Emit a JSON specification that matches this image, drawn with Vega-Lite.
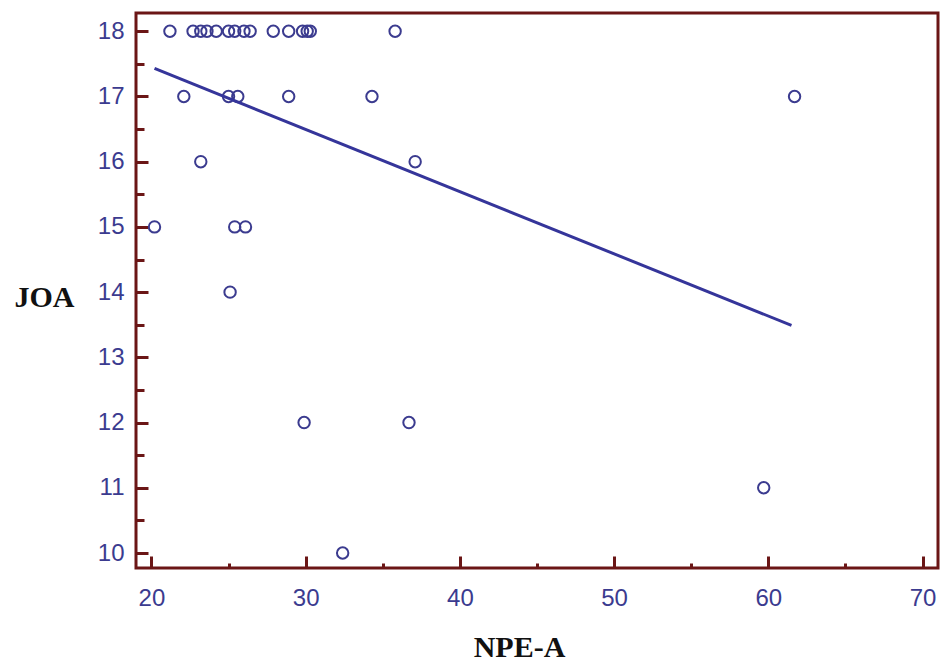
{
  "$schema": "https://vega.github.io/schema/vega-lite/v6.json",
  "width": 802,
  "height": 555,
  "autosize": "none",
  "padding": {"left": 136, "top": 13, "right": 10, "bottom": 96},
  "background": "white",
  "config": {
    "view": {"stroke": "#6b1616", "strokeWidth": 3},
    "axis": {
      "labelFont": "Liberation Sans",
      "labelFontSize": 24,
      "labelColor": "#3b3b8f",
      "tickColor": "#6b1616",
      "tickWidth": 3,
      "domain": false,
      "grid": false,
      "titleFont": "Liberation Serif",
      "titleFontWeight": "bold",
      "titleFontSize": 30,
      "titleColor": "#111111"
    }
  },
  "datasets": {
    "pts": [
      {"npe": 21.2, "joa": 18}, {"npe": 22.7, "joa": 18}, {"npe": 23.2, "joa": 18},
      {"npe": 23.6, "joa": 18}, {"npe": 24.2, "joa": 18}, {"npe": 25.0, "joa": 18},
      {"npe": 25.4, "joa": 18}, {"npe": 26.0, "joa": 18}, {"npe": 26.4, "joa": 18},
      {"npe": 27.9, "joa": 18}, {"npe": 28.9, "joa": 18}, {"npe": 29.8, "joa": 18},
      {"npe": 30.1, "joa": 18}, {"npe": 30.3, "joa": 18}, {"npe": 35.8, "joa": 18},
      {"npe": 22.1, "joa": 17}, {"npe": 25.0, "joa": 17}, {"npe": 25.6, "joa": 17},
      {"npe": 28.9, "joa": 17}, {"npe": 34.3, "joa": 17}, {"npe": 61.7, "joa": 17},
      {"npe": 23.2, "joa": 16}, {"npe": 37.1, "joa": 16},
      {"npe": 20.2, "joa": 15}, {"npe": 25.4, "joa": 15}, {"npe": 26.1, "joa": 15},
      {"npe": 25.1, "joa": 14},
      {"npe": 29.9, "joa": 12}, {"npe": 36.7, "joa": 12},
      {"npe": 59.7, "joa": 11},
      {"npe": 32.4, "joa": 10}
    ],
    "fit": [
      {"npe": 20.2, "joa": 17.43},
      {"npe": 61.5, "joa": 13.49}
    ]
  },
  "layer": [
    {
      "data": {"name": "pts"},
      "mark": {"type": "point", "shape": "circle", "size": 130, "strokeWidth": 2, "color": "#3b3b8f", "filled": false, "opacity": 1},
      "encoding": {
        "x": {
          "field": "npe", "type": "quantitative",
          "scale": {"domain": [19, 71], "nice": false, "zero": false},
          "axis": {"orient": "bottom", "values": [20, 30, 40, 50, 60, 70], "tickSize": -12, "labelPadding": 30, "title": "NPE-A", "titleX": 383, "titleY": 79, "titleBaseline": "middle", "titleAnchor": null, "titleAlign": "center"}
        },
        "y": {
          "field": "joa", "type": "quantitative",
          "scale": {"domain": [9.77, 18.28], "nice": false, "zero": false},
          "axis": {"orient": "left", "values": [10, 11, 12, 13, 14, 15, 16, 17, 18], "tickSize": -12, "labelPadding": 24, "labelBaseline": "middle", "title": "JOA", "titleAngle": 0, "titleX": -92, "titleY": 284, "titleAlign": "center", "titleBaseline": "middle", "titleAnchor": null}
        }
      }
    },
    {
      "data": {"name": "fit"},
      "mark": {"type": "line", "color": "#35359a", "strokeWidth": 3},
      "encoding": {
        "x": {
          "field": "npe", "type": "quantitative",
          "axis": {"orient": "bottom", "values": [25, 35, 45, 55, 65], "tickSize": -5, "labels": false, "title": null}
        },
        "y": {
          "field": "joa", "type": "quantitative",
          "axis": {"orient": "left", "values": [10.5, 11.5, 12.5, 13.5, 14.5, 15.5, 16.5, 17.5], "tickSize": -8, "labels": false, "title": null}
        }
      }
    }
  ],
  "resolve": {"axis": {"x": "independent", "y": "independent"}}
}
